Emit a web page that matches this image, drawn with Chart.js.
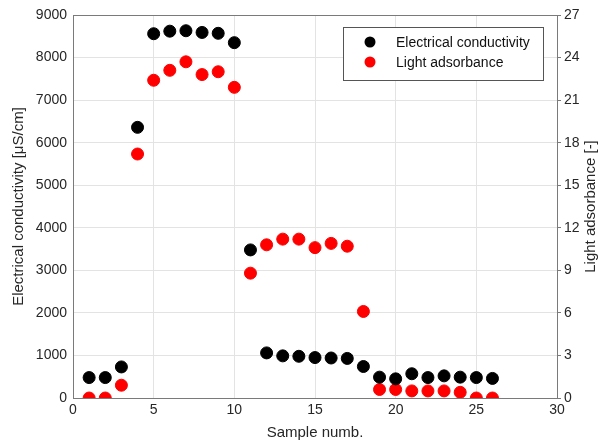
<!DOCTYPE html>
<html>
<head>
<meta charset="utf-8">
<script src="https://cdn.jsdelivr.net/npm/chart.js@4"></script>
<style>
  body { margin: 0; background: #fff; }
  #wrap { width: 603px; height: 446px; }
</style>
</head>
<body>
<div id="wrap"><canvas id="chart"></canvas></div>
<script>
// Sample numbers
const samples = [1, 2, 3, 4, 5, 6, 7, 8, 9, 10, 11, 12, 13, 14, 15, 16, 17, 18, 19, 20, 21, 22, 23, 24, 25, 26];
// Electrical conductivity [uS/cm]
const conductivity = [480, 480, 730, 6360, 8560, 8620, 8630, 8590, 8570, 8350, 3480, 1060, 990, 980, 950, 940, 930, 740, 490, 450, 570, 480, 520, 490, 480, 460];
// Light adsorbance [-]
const adsorbance = [0, 0, 0.9, 17.2, 22.4, 23.1, 23.7, 22.8, 23.0, 21.9, 8.8, 10.8, 11.2, 11.2, 10.6, 10.9, 10.7, 6.1, 0.6, 0.6, 0.5, 0.5, 0.5, 0.4, 0, 0];

const ecTicks = [0, 1000, 2000, 3000, 4000, 5000, 6000, 7000, 8000, 9000];
const laTicks = [0, 3, 6, 9, 12, 15, 18, 21, 24, 27];
const xTicks = [0, 5, 10, 15, 20, 25, 30];

const axisColor = '#262626';
const gridColor = '#e3e3e3';
const fontFamily = '"Liberation Sans", Arial, sans-serif';
const rightTitle = 'Light adsorbance [-]';

// draws the box round the plot, the right axis title and the legend
const boxAndLegend = {
    id: 'boxAndLegend',
    afterDraw(chart) {
        const ctx = chart.ctx;
        const a = chart.chartArea;
        ctx.save();
        ctx.strokeStyle = '#7a7a7a';
        ctx.lineWidth = 1;
        ctx.strokeRect(a.left + 0.5, a.top + 0.5, a.right - a.left, a.bottom - a.top);

        // right title reads bottom to top, like the left one
        ctx.save();
        ctx.translate(591, (a.top + a.bottom) / 2);
        ctx.rotate(-Math.PI / 2);
        ctx.font = '15px ' + fontFamily;
        ctx.fillStyle = axisColor;
        ctx.textAlign = 'center';
        ctx.textBaseline = 'middle';
        ctx.fillText(rightTitle, 0, 0);
        ctx.restore();

        const lx = 343, ly = 27, lw = 200, lh = 53;
        ctx.fillStyle = '#fff';
        ctx.fillRect(lx, ly, lw, lh);
        ctx.strokeStyle = '#555';
        ctx.strokeRect(lx + 0.5, ly + 0.5, lw, lh);
        ctx.font = '14px ' + fontFamily;
        ctx.textBaseline = 'middle';
        chart.data.datasets.forEach(function(ds, i) {
            const cy = ly + 15 + i * 20;
            ctx.fillStyle = ds.backgroundColor;
            ctx.beginPath();
            ctx.arc(lx + 27, cy, 5.5, 0, Math.PI * 2);
            ctx.fill();
            ctx.fillStyle = '#111';
            ctx.fillText(ds.label, lx + 53, cy + 1);
        });
        ctx.restore();
    }
};

new Chart(document.getElementById('chart'), {
    type: 'scatter',
    data: {
        datasets: [{
            label: 'Electrical conductivity',
            data: samples.map((s, i) => ({ x: s, y: conductivity[i] })),
            backgroundColor: '#000000',
            borderColor: '#000000',
            pointRadius: 6,
            yAxisID: 'y'
        }, {
            label: 'Light adsorbance',
            data: samples.map((s, i) => ({ x: s, y: adsorbance[i] })),
            backgroundColor: '#ff0000',
            borderColor: '#ff0000',
            pointRadius: 6,
            yAxisID: 'y1'
        }]
    },
    options: {
        responsive: true,
        maintainAspectRatio: false,
        animation: false,
        layout: { padding: { top: 15, right: 0, left: 6, bottom: 0 } },
        plugins: {
            legend: { display: false },
            tooltip: { enabled: false }
        },
        scales: {
            x: {
                type: 'linear',
                min: 0,
                max: 30,
                afterBuildTicks: axis => { axis.ticks = xTicks.map(v => ({ value: v })); },
                afterFit: axis => { axis.height = 48; },
                grid: { color: gridColor, drawTicks: false },
                border: { color: '#7a7a7a' },
                ticks: { color: axisColor, font: { family: fontFamily, size: 14 }, padding: 4, callback: v => String(v) },
                title: { display: true, text: 'Sample numb.', color: axisColor, font: { family: fontFamily, size: 15 }, padding: { top: 2 } }
            },
            y: {
                position: 'left',
                min: 0,
                max: 9000,
                afterBuildTicks: axis => { axis.ticks = ecTicks.map(v => ({ value: v })); },
                afterFit: axis => { axis.width = 67; },
                grid: { color: gridColor, drawTicks: false },
                border: { color: '#7a7a7a' },
                ticks: { color: axisColor, font: { family: fontFamily, size: 14 }, padding: 6, callback: v => String(v) },
                title: { display: true, text: 'Electrical conductivity [μS/cm]', color: axisColor, font: { family: fontFamily, size: 15 }, padding: { bottom: 2 } }
            },
            y1: {
                position: 'right',
                min: 0,
                max: 27,
                afterBuildTicks: axis => { axis.ticks = laTicks.map(v => ({ value: v })); },
                afterFit: axis => { axis.width = 46; },
                grid: { drawOnChartArea: false, color: '#7a7a7a', tickLength: 4 },
                border: { color: '#7a7a7a' },
                ticks: { color: axisColor, font: { family: fontFamily, size: 14 }, padding: 3, callback: v => String(v) },
                title: { display: false }
            }
        }
    },
    plugins: [boxAndLegend]
});
</script>
</body>
</html>
